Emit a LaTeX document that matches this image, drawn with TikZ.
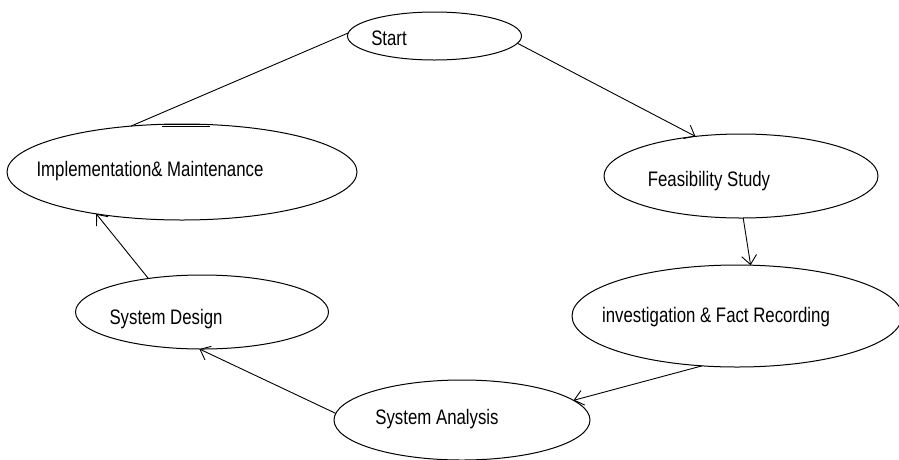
\documentclass[tikz,border=0pt]{standalone}
\usepackage{fontspec}
\setmainfont[FakeStretch=0.8]{Liberation Sans}
\usetikzlibrary{shapes.geometric,arrows.meta}
\tikzset{
  oval/.style={draw=black, line width=1pt, ellipse, inner sep=0pt, outer sep=0pt},
  lbl/.style={font=\fontsize{21}{24}\selectfont, inner sep=0pt},
  conn/.style={draw=black, line width=0.9pt},
  arr/.style={conn, -{Straight Barb[length=9pt,width=15pt,line width=0.9pt]}}
}
\begin{document}
\begin{tikzpicture}[x=1pt,y=-1pt]
\useasboundingbox[fill=white] (0,0) rectangle (899,459);
% ellipses
\node[oval, minimum width=174pt, minimum height=48pt] (start) at (434.5,36) {};
\node[oval, minimum width=350pt, minimum height=96pt] (impl) at (182,172) {};
\node[oval, minimum width=274pt, minimum height=84pt] (feas) at (741,176) {};
\node[oval, minimum width=330pt, minimum height=102pt] (inv) at (737,316) {};
\node[oval, minimum width=253pt, minimum height=74pt] (design) at (202,312) {};
\node[oval, minimum width=256pt, minimum height=80pt] (anal) at (462,420) {};
% labels
\node[lbl] (tstart) at (389,38) {Start};
\node[lbl] (timpl) at (150,171) {Implementation\& Maintenance};
\node[lbl] (tfeas) at (709,181) {Feasibility Study};
\node[lbl] (tinv) at (716,317) {investigation \& Fact Recording};
\node[lbl] (tdesign) at (166,319) {System Design};
\node[lbl] (tanal) at (437,419) {System Analysis};
% connectors
\draw[arr] (start.-5) -- (feas.139);
\draw[arr] (feas.-87) -- (inv.75);
\draw[arr] (inv.235) -- (anal.10);
\draw[arr] (anal.177) -- (design.266);
\draw[arr] (design.148) -- (impl.206);
\draw[conn] (impl.138) -- (start.178.6);
% small double stroke above the implementation oval
\coordinate (d1) at (162,124);
\coordinate (d2) at (210,124);
\coordinate (d3) at (162,126.5);
\coordinate (d4) at (210,126.5);
\draw[conn, line width=0.7pt] (d1) -- (d2) (d3) -- (d4);
\end{tikzpicture}
\end{document}
